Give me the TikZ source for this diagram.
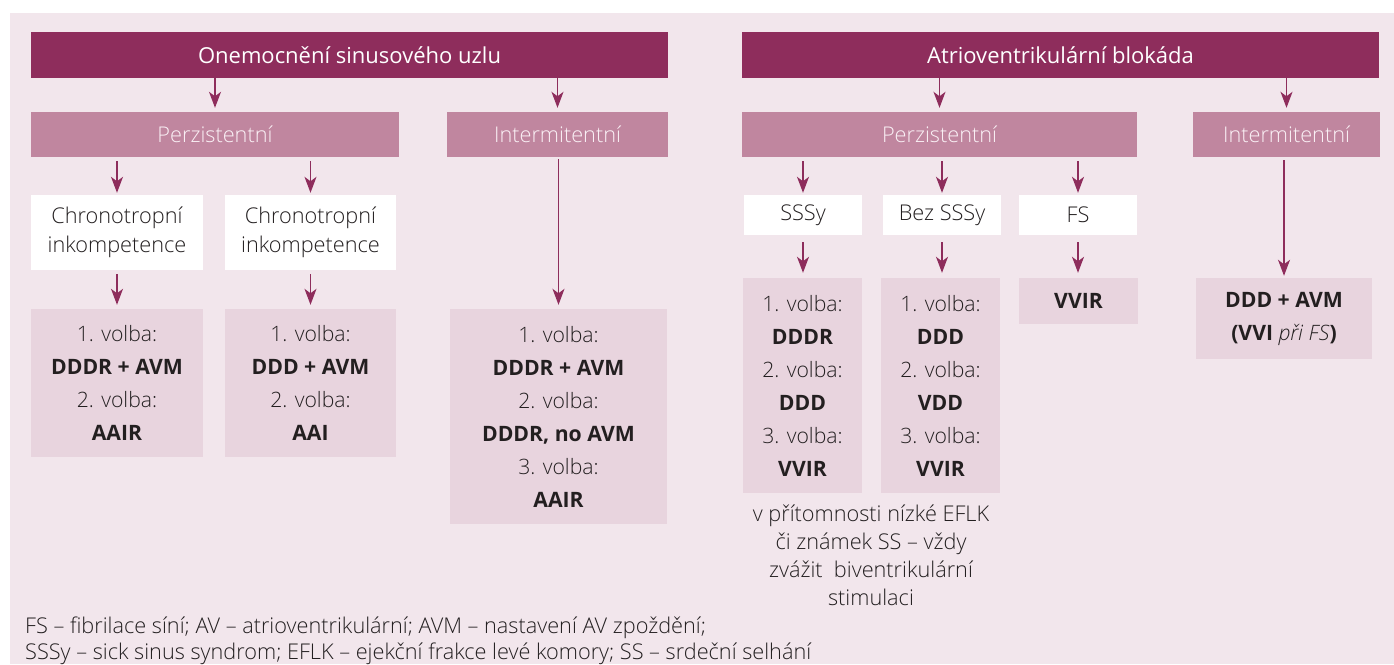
\documentclass[tikz,border=0pt]{standalone}
\usepackage{fontspec}
\setmainfont{Open Sans Light}[BoldFont={Open Sans Bold},ItalicFont={Open Sans Light Italic}]
\newfontfamily\regf{Open Sans}
\usetikzlibrary{arrows.meta}
\definecolor{bgpink}{RGB}{242,230,236}
\definecolor{hdrc}{RGB}{142,45,92}
\definecolor{midc}{RGB}{192,134,159}
\definecolor{resc}{RGB}{232,212,222}
\definecolor{txtc}{RGB}{35,31,32}
\definecolor{midtxt}{RGB}{250,240,245}
\tikzset{
  hdr/.style={fill=hdrc, text=white, inner sep=0pt, minimum height=46pt, font=\regf\fontsize{22}{26}\selectfont},
  mid/.style={fill=midc, text=midtxt, inner sep=0pt, minimum height=45pt, font=\fontsize{21.7}{24}\selectfont},
  wbox/.style={fill=white, text=txtc, inner sep=0pt, align=center, font=\fontsize{21.7}{29}\selectfont},
  res/.style={fill=resc, text=txtc, inner sep=0pt, align=center, font=\fontsize{21.2}{33}\selectfont},
  arr/.style={draw=hdrc, line width=1.4pt, -{Stealth[length=16pt,width=12pt,inset=4.5pt]}},
  plain/.style={text=txtc, inner sep=0pt}
}
\begin{document}
\begin{tikzpicture}[x=1pt,y=-1pt]
\useasboundingbox (0,0) rectangle (1394,664);
\fill[bgpink] (10,13) rectangle (1394,664);

% headers
\node[hdr, minimum width=637pt] (L0) at (349.5,55) {Onemocnění sinusového uzlu};
\node[hdr, minimum width=637pt] (R0) at (1060.5,55) {Atrioventrikulární blokáda};

% second level
\node[mid, minimum width=368pt] (LP) at (215,134.5) {Perzistentní};
\node[mid, minimum width=221pt] (LI) at (557.5,134.5) {Intermitentní};
\node[mid, minimum width=395pt] (RP) at (939.5,134.5) {Perzistentní};
\node[mid, minimum width=187pt] (RI) at (1286.5,134.5) {Intermitentní};

% white boxes
\node[wbox, minimum width=172pt, minimum height=75pt] (W1) at (117,232.5) {Chronotropní\\inkompetence};
\node[wbox, minimum width=171pt, minimum height=75pt] (W2) at (310.5,232.5) {Chronotropní\\inkompetence};
\node[wbox, minimum width=118pt, minimum height=40pt] (S1) at (803,215) {SSSy};
\node[wbox, minimum width=118pt, minimum height=40pt] (S2) at (942,215) {Bez SSSy};
\node[wbox, minimum width=118pt, minimum height=40pt] (S3) at (1078,215) {FS};

% result boxes
\node[res, minimum width=172pt, minimum height=148pt] (B1) at (117,383) {1. volba:\\\textbf{DDDR + AVM}\\2. volba:\\\textbf{AAIR}};
\node[res, minimum width=171pt, minimum height=148pt] (B2) at (310.5,383) {1. volba:\\\textbf{DDD + AVM}\\2. volba:\\\textbf{AAI}};
\node[res, minimum width=217pt, minimum height=215pt] (B3) at (558.5,416.5) {1. volba:\\\textbf{DDDR + AVM}\\2. volba:\\\textbf{DDDR, no AVM}\\3. volba:\\\textbf{AAIR}};
\node[res, minimum width=119pt, minimum height=215pt] (C1) at (802.5,385.5) {1. volba:\\\textbf{DDDR}\\2. volba:\\\textbf{DDD}\\3. volba:\\\textbf{VVIR}};
\node[res, minimum width=119pt, minimum height=215pt] (C2) at (940.5,385.5) {1. volba:\\\textbf{DDD}\\2. volba:\\\textbf{VDD}\\3. volba:\\\textbf{VVIR}};
\node[res, minimum width=119pt, minimum height=46pt] (C3) at (1078.5,301) {\textbf{VVIR}};
\node[res, minimum width=176pt, minimum height=81pt] (C4) at (1284,318.5) {\textbf{DDD + AVM}\\\textbf{(VVI} \textit{při FS}\textbf{)}};

% note
\node[plain, align=center, font=\fontsize{21.7}{28}\selectfont] (note) at (871,555) {v přítomnosti nízké EFLK\\či známek SS – vždy\\zvážit\ \ biventrikulární\\stimulaci};

% footnote
\node[plain, anchor=base west, font=\fontsize{21.7}{27}\selectfont] (fn1) at (25,633) {FS – fibrilace síní; AV – atrioventrikulární; AVM – nastavení AV zpoždění;};
\node[plain, anchor=base west, font=\fontsize{21.7}{27}\selectfont] (fn2) at (25,659) {SSSy – sick sinus syndrom; EFLK – ejekční frakce levé komory; SS – srdeční selhání};

% arrows level 1
\draw[arr] (L0.south -| LP.north) -- ([yshift=4pt]LP.north);
\draw[arr] (L0.south -| LI.north) -- ([yshift=4pt]LI.north);
\draw[arr] (R0.south -| RP.north) -- ([yshift=4pt]RP.north);
\draw[arr] (R0.south -| RI.north) -- ([yshift=4pt]RI.north);
% level 2
\draw[arr] ([yshift=-4pt]LP.south -| W1.north) -- ([yshift=2pt]W1.north);
\draw[arr] ([yshift=-4pt]LP.south -| W2.north) -- ([yshift=2pt]W2.north);
\draw[arr] ([yshift=-2pt]LI.south -| B3.north) -- ([yshift=4pt]B3.north);
\draw[arr] ([yshift=-4pt]RP.south -| S1.north) -- ([yshift=2pt]S1.north);
\draw[arr] ([yshift=-4pt]RP.south -| S2.north) -- ([yshift=2pt]S2.north);
\draw[arr] ([yshift=-4pt]RP.south -| S3.north) -- ([yshift=2pt]S3.north);
\draw[arr] ([yshift=-3pt]RI.south -| C4.north) -- ([yshift=2pt]C4.north);
% level 3
\draw[arr] ([yshift=-4pt]W1.south) -- ([yshift=4pt]B1.north);
\draw[arr] ([yshift=-4pt]W2.south) -- ([yshift=4pt]B2.north);
\draw[arr] ([yshift=-7pt]S1.south) -- ([yshift=5pt]C1.north -| S1.south);
\draw[arr] ([yshift=-7pt]S2.south) -- ([yshift=5pt]C2.north -| S2.south);
\draw[arr] ([yshift=-7pt]S3.south) -- ([yshift=5pt]C3.north -| S3.south);
\end{tikzpicture}
\end{document}
